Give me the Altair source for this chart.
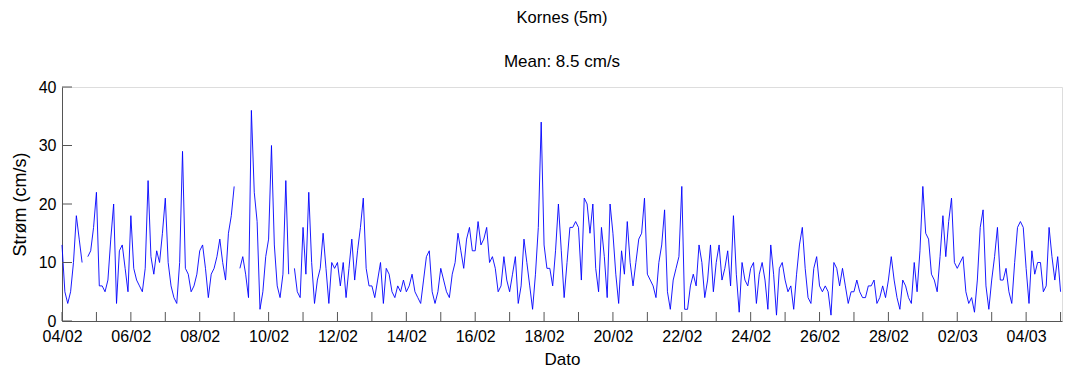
import altair as alt
import pandas as pd

# Current speed (cm/s), one reading every 2 hours from 04/02 00:00
week1 = [
    13, 5, 3, 5, 10, 18, 14, 10, None, 11, 12, 16,
    22, 6, 6, 5, 7, 14, 20, 3, 12, 13, 9, 5,
    18, 9, 7, 6, 5, 9, 24, 11, 8, 12, 10, 15,
    21, 10, 6, 4, 3, 10, 29, 9, 8, 5, 6, 8,
    12, 13, 9, 4, 8, 9, 11, 14, 10, 7, 15, 18,
    23, None, 9, 11, 8, 4, 36, 22, 17, 2, 5, 11,
    14, 30, 13, 6, 4, 8, 24, 8, None, 9, 5, 4,
]
week2 = [
    16, 8, 22, 10, 3, 7, 9, 15, 9, 3, 10, 9,
    10, 6, 10, 4, 9, 14, 7, 12, 16, 21, 9, 6,
    6, 4, 7, 10, 3, 9, 8, 5, 4, 6, 5, 7,
    5, 6, 8, 5, 4, 3, 7, 11, 12, 5, 3, 5,
    9, 7, 5, 4, 8, 10, 15, 12, 9, 14, 16, 12,
    12, 17, 13, 14, 16, 10, 11, 9, 5, 6, 11, 7,
    5, 8, 11, 3, 6, 14, 10, 6, 2, 8, 16, 34,
]
week3 = [
    13, 9, 9, 6, 12, 20, 12, 4, 10, 16, 16, 17,
    16, 7, 21, 20, 15, 20, 9, 5, 16, 11, 4, 20,
    15, 8, 3, 12, 8, 17, 10, 6, 10, 14, 15, 21,
    8, 7, 6, 4, 10, 13, 19, 5, 2, 7, 9, 11,
    23, 2, 2, 6, 8, 6, 13, 10, 4, 7, 13, 5,
    10, 13, 7, 9, 12, 6, 18, 8, 1.5, 10, 7, 6,
    9, 10, 3, 8, 10, 7, 2, 13, 8, 1, 9, 10,
]
week4 = [
    7, 5, 6, 2, 8, 13, 16, 9, 4, 3, 9, 11,
    6, 5, 6, 5, 1, 10, 9, 6, 9, 6, 3, 5,
    5, 7, 5, 4, 4, 6, 6, 7, 3, 4, 6, 4,
    7, 11, 7, 4, 2, 7, 6, 4, 3, 10, 5, 12,
    23, 15, 14, 8, 7, 5, 11, 18, 11, 17, 21, 10,
    9, 10, 11, 5, 3, 4, 1.5, 7, 16, 19, 6, 2,
    7, 11, 16, 7, 7, 9, 5, 3, 10, 16, 17, 16,
]
week5 = [
    9, 3, 12, 8, 10, 10, 5, 6, 16, 11, 7, 11, 5,
]

speed = week1 + week2 + week3 + week4 + week5
times = pd.date_range("2013-02-04 00:00", periods=len(speed), freq="2h")
df = pd.DataFrame({"time": times.strftime("%Y-%m-%dT%H:%M:%S"), "speed": speed})

day_ticks = pd.date_range("2013-02-04", "2013-03-05", freq="D")
xtick_df = pd.DataFrame({"time": day_ticks.strftime("%Y-%m-%dT%H:%M:%S")})
ytick_values = [0, 10, 20, 30, 40]
ytick_df = pd.DataFrame({"speed": ytick_values})

label_dates = [
    (2, 4), (2, 6), (2, 8), (2, 10), (2, 12), (2, 14), (2, 16), (2, 18),
    (2, 20), (2, 22), (2, 24), (2, 26), (2, 28), (3, 2), (3, 4),
]
label_values = [alt.DateTime(year=2013, month=m, date=d) for m, d in label_dates]

title_main = "Kornes (5m)"
title_sub = "Mean: 8.5 cm/s"

FONT = "Liberation Sans"
W, H = 1000, 234

x_scale = alt.Scale(
    domain=[alt.DateTime(year=2013, month=2, date=4),
            alt.DateTime(year=2013, month=3, date=5, hours=1)],
    nice=False,
)
y_scale = alt.Scale(domain=[0, 40], nice=False)

x_axis = alt.Axis(
    values=label_values, format="%d/%m", ticks=False, grid=False,
    domainColor="#555555", labelColor="black", labelFont=FONT,
    labelFontSize=16, labelPadding=7, labelOverlap=False, labelFlush=False,
    title="Dato", titleFont=FONT, titleFontSize=17, titleFontWeight="normal",
    titleColor="black", titleX=W / 2, titleY=38, titleBaseline="middle",
    titleAnchor="middle",
)
y_axis = alt.Axis(
    values=ytick_values, ticks=False, grid=False, domainColor="#555555",
    labelColor="black", labelFont=FONT, labelFontSize=16, labelPadding=6,
    title="Strøm (cm/s)", titleFont=FONT, titleFontSize=18,
    titleFontWeight="normal", titleColor="black", titleX=-42, titleY=H / 2,
    titleBaseline="middle", titleAlign="center",
)

line = alt.Chart(df).mark_line(
    color="#0000ff", strokeWidth=0.9, invalid="break-paths-show-domains"
).encode(
    x=alt.X("time:T", scale=x_scale, axis=x_axis),
    y=alt.Y("speed:Q", scale=y_scale, axis=y_axis),
)

xticks = alt.Chart(xtick_df).mark_rule(color="#555555", strokeWidth=1).encode(
    x=alt.X("time:T", scale=x_scale, axis=x_axis),
    y=alt.value(H),
    y2=alt.value(H - 9),
)

yticks = alt.Chart(ytick_df).mark_rule(color="#555555", strokeWidth=1).encode(
    y=alt.Y("speed:Q", scale=y_scale, axis=y_axis),
    x=alt.value(0),
    x2=alt.value(10),
)

t1 = alt.Chart(pd.DataFrame({"t": [title_main]})).mark_text(
    font=FONT, fontSize=16.5, color="black", baseline="middle", align="center"
).encode(text="t:N", x=alt.value(W / 2), y=alt.value(-69))

t2 = alt.Chart(pd.DataFrame({"t": [title_sub]})).mark_text(
    font=FONT, fontSize=17, color="black", baseline="middle", align="center"
).encode(text="t:N", x=alt.value(W / 2), y=alt.value(-25))

chart = alt.layer(line, xticks, yticks, t1, t2).properties(
    width=W, height=H,
    autosize=alt.AutoSizeParams(type="none"),
    padding={"left": 62, "top": 87, "right": 4, "bottom": 49},
).configure_view(strokeWidth=0, stroke="transparent").configure(background="white")

chart.save("out.html", embed_options={"renderer": "svg", "actions": False})
